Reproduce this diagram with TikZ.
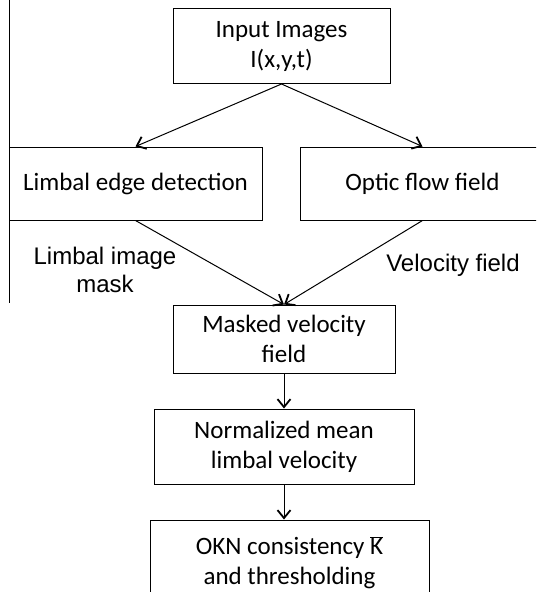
\documentclass[tikz,border=0pt]{standalone}
\usepackage{fontspec}
\setmainfont{Carlito}
\newfontfamily\labelfont{Liberation Sans}
\usetikzlibrary{arrows.meta}

\tikzset{
    stagebox/.style={draw, line width=1pt, align=center, inner sep=0pt,
        font=\fontsize{25}{30}\selectfont},
    flowarrow/.style={line width=1pt, -{Straight Barb[length=8pt,width=13pt,line width=1.8pt]}},
    flowlabel/.style={align=center, inner sep=0pt,
        font=\labelfont\fontsize{24}{28}\selectfont}
}

\begin{document}
\begin{tikzpicture}[x=1pt, y=-1pt]
        \useasboundingbox (0, 0) rectangle (536, 592);
        \clip (0, 0) rectangle (536, 592);

        % Input stage
        \node[stagebox, minimum width=217pt, minimum height=75pt] (input) at (281.5, 46) {Input Images\\I(x,y,t)};

        % Two branches
        \node[stagebox, minimum width=253pt, minimum height=73pt] (limbal) at (135.5, 183.5) {Limbal edge detection};
        \node[stagebox, minimum width=245pt, minimum height=73pt] (optic) at (422.5, 183.5) {Optic flow field};

        \draw[line width=1pt] (9, 0) -- (9, 303);

        \draw[flowarrow] (input.south) -- (limbal.north);
        \draw[flowarrow] (input.south) -- (optic.north);

        % Merge
        \node[stagebox, minimum width=222pt, minimum height=68pt] (masked) at (284, 339) {Masked velocity\\field};

        \node[flowlabel] (masklabel) at (105, 270) {Limbal image\\mask};
        \node[flowlabel] (velolabel) at (453, 265) {Velocity field};

        \draw[flowarrow] (limbal.south) -- (masked.north);
        \draw[flowarrow] (optic.south) -- (masked.north);

        % Later stages
        \node[stagebox, minimum width=260pt, minimum height=75pt] (meanvel) at (284, 446.5) {Normalized mean\\limbal velocity};
        \node[stagebox, minimum width=279pt, minimum height=86pt] (okn) at (289.5, 563) {OKN consistency $\overline{\mbox{K}}$\\and thresholding};

        \draw[flowarrow] (masked.south) -- (meanvel.north);
        \draw[flowarrow] (meanvel.south) -- (meanvel.south |- okn.north);
    \end{tikzpicture}
\end{document}
